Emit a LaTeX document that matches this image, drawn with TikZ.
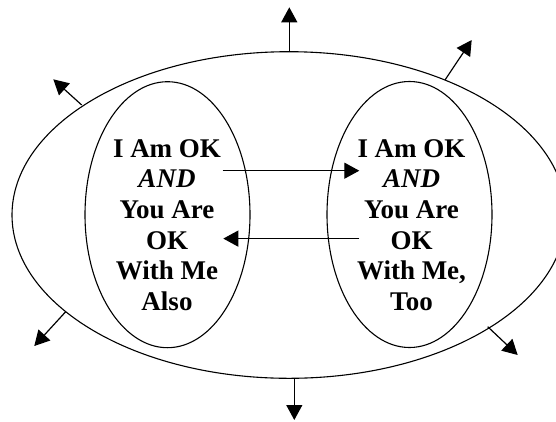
\documentclass[tikz,border=0pt]{standalone}
\usepackage{fontspec}
\setmainfont{Liberation Serif}
\usetikzlibrary{shapes.geometric,arrows.meta}
\tikzset{
  ring/.style={draw, ellipse, line width=1.1pt, inner sep=0pt},
  label/.style={font=\fontsize{27}{30.7}\selectfont\bfseries, align=center, anchor=north, inner sep=0pt},
  arr/.style={line width=1.2pt, -{Triangle[width=16pt,length=15pt]}}
}
\begin{document}
\begin{tikzpicture}[x=1pt,y=-1pt]
\useasboundingbox (0,0) rectangle (556,421);
\begin{scope}
\clip (0,0) rectangle (556,421);
\node[ring, minimum width=554pt, minimum height=326.6pt] (O) at (289,215) {};
\end{scope}
\node[ring, minimum width=165pt, minimum height=266pt] (L) at (167.5,214.7) {};
\node[ring, minimum width=165pt, minimum height=266pt] (R) at (409.5,214.5) {};
\node[label] (Lt) at (167,139) {I Am OK\\\textit{AND}\\You Are\\OK\\With Me\\Also};
\node[label] (Rt) at (411.5,139) {I Am OK\\\textit{AND}\\You Are\\OK\\With Me,\\Too};
% inner connectors
\coordinate (a1) at (222.7,170.7);
\coordinate (a2) at (359.3,170.7);
\coordinate (b1) at (359.3,238.6);
\coordinate (b2) at (223.3,238.6);
\draw[arr] (a1) -- (a2);
\draw[arr] (b1) -- (b2);
% radial arrows
\coordinate (t1) at (289.3,51.7);   \coordinate (t2) at (289.3,7.3);
\coordinate (tr1) at (445,80);      \coordinate (tr2) at (471.7,40);
\coordinate (lt1) at (81.7,105);    \coordinate (lt2) at (53.3,79.3);
\coordinate (lb1) at (65.7,311.7);  \coordinate (lb2) at (34.3,346);
\coordinate (rb1) at (487.7,326.7); \coordinate (rb2) at (517.7,355);
\coordinate (bo1) at (294.3,378.3); \coordinate (bo2) at (294.3,420);
\draw[arr] (t1) -- (t2);
\draw[arr] (tr1) -- (tr2);
\draw[arr] (lt1) -- (lt2);
\draw[arr] (lb1) -- (lb2);
\draw[arr] (rb1) -- (rb2);
\draw[arr] (bo1) -- (bo2);
\end{tikzpicture}
\end{document}
